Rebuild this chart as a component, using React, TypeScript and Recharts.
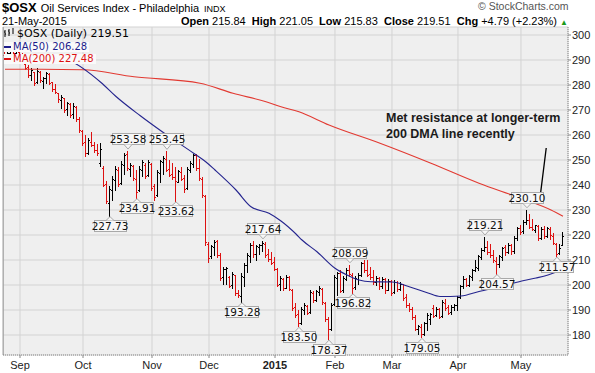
import React from "react";
import {
  ComposedChart,
  Bar,
  Line,
  Scatter,
  XAxis,
  YAxis,
  CartesianGrid,
  ReferenceLine,
} from "recharts";

// daily bars: [open, high, low, close], one small list per month
type Ohlc = [number, number, number, number];

const aug14: Ohlc[] = [
  [292.0, 293.6, 288.8, 289.3], [291.2, 293.2, 290.8, 292.6], [292.6, 295.2, 291.8, 294.6],
  [294.4, 295.8, 292.2, 292.8], [292.8, 294.2, 291.2, 293.6],
];
const sep14: Ohlc[] = [
  [293.2, 294.6, 291.4, 291.9], [291.8, 292.6, 290.9, 291.2], [288.4, 288.8, 286.4, 286.9],
  [287.0, 287.8, 283.4, 284.2], [284.0, 286.6, 282.2, 285.8], [285.0, 285.4, 280.2, 280.8],
  [281.0, 286.6, 280.6, 285.6], [285.2, 285.6, 281.2, 281.8], [281.6, 283.4, 278.8, 282.9],
  [282.6, 285.4, 280.8, 284.8], [284.4, 284.8, 280.4, 281.0], [281.0, 281.4, 277.6, 278.2],
  [278.4, 280.4, 276.6, 277.0], [276.6, 276.8, 273.2, 274.4], [274.0, 276.0, 270.8, 275.4],
  [274.6, 274.8, 269.4, 270.0], [270.4, 273.4, 268.2, 272.8], [272.4, 272.8, 267.4, 268.0],
  [268.2, 272.6, 266.8, 271.6], [271.2, 271.6, 265.6, 266.4], [266.4, 267.0, 261.0, 261.8],
];
const oct14: Ohlc[] = [
  [261.6, 262.0, 255.8, 256.6], [257.0, 260.0, 251.4, 252.6], [253.0, 258.8, 252.6, 257.8],
  [257.4, 261.2, 255.6, 256.2], [256.0, 257.0, 253.2, 254.0], [254.2, 256.4, 252.0, 252.8],
  [249.0, 256.6, 247.4, 254.6], [247.0, 247.4, 239.4, 240.2], [240.4, 241.4, 232.8, 233.6],
  [233.0, 239.4, 227.73, 238.6], [238.0, 243.4, 234.2, 242.6], [242.0, 247.4, 238.2, 246.4],
  [246.2, 247.2, 239.4, 240.4], [241.0, 249.4, 240.6, 248.6], [247.8, 252.8, 244.6, 252.0],
  [252.4, 253.58, 246.0, 246.8], [246.4, 248.8, 243.4, 248.0], [247.6, 248.0, 242.0, 242.8],
  [242.6, 246.0, 234.91, 237.0], [238.0, 247.4, 237.6, 246.6], [245.8, 250.0, 243.4, 249.2],
  [248.2, 248.6, 242.8, 243.6], [244.0, 250.0, 243.4, 249.0],
];
const nov14: Ohlc[] = [
  [248.4, 249.0, 238.0, 239.0], [239.6, 240.6, 234.2, 235.2], [235.8, 246.0, 235.4, 245.2],
  [244.8, 250.2, 241.0, 249.6], [249.2, 251.4, 244.6, 250.8], [250.6, 253.45, 245.4, 246.2],
  [246.6, 250.0, 243.4, 244.0], [244.4, 248.6, 242.6, 243.2], [243.0, 247.2, 233.62, 241.6],
  [241.4, 246.0, 241.2, 245.4], [245.0, 247.2, 242.0, 242.6], [242.8, 244.0, 237.4, 238.6],
  [238.8, 247.2, 238.4, 246.4], [246.0, 249.4, 245.2, 248.8], [248.4, 252.6, 247.2, 252.0],
  [252.2, 252.6, 246.0, 246.8], [246.8, 250.4, 242.0, 243.0], [242.6, 243.2, 235.2, 236.0],
  [235.6, 236.0, 216.0, 217.0],
];
const dec14: Ohlc[] = [
  [216.4, 217.0, 209.4, 211.0], [211.4, 216.2, 210.8, 215.4], [215.2, 218.0, 212.0, 217.2],
  [217.6, 218.0, 211.4, 212.2], [212.0, 212.8, 202.0, 203.0], [203.4, 207.4, 200.6, 206.6],
  [206.4, 207.0, 200.4, 206.8], [203.0, 203.4, 199.2, 199.8], [200.0, 205.2, 198.8, 204.6],
  [204.0, 204.2, 196.2, 196.8], [197.0, 198.0, 195.2, 195.8], [195.6, 204.8, 193.28, 203.6],
  [203.2, 208.8, 199.4, 208.0], [207.8, 212.8, 205.2, 212.0], [211.6, 216.8, 209.4, 216.2],
  [216.0, 217.4, 211.4, 212.4], [212.6, 216.0, 210.2, 215.4], [215.2, 216.6, 212.6, 216.0],
  [215.8, 217.64, 213.4, 216.8], [216.6, 217.0, 211.4, 212.2], [212.4, 214.6, 209.8, 210.4],
  [210.6, 213.2, 208.6, 209.0],
];
const jan15: Ohlc[] = [
  [209.2, 211.2, 205.8, 206.6], [206.4, 206.8, 199.4, 200.2], [200.4, 203.4, 198.0, 202.8],
  [202.4, 202.8, 198.2, 198.8], [199.0, 204.0, 198.8, 203.4], [203.2, 203.4, 197.8, 198.6],
  [198.2, 198.4, 190.0, 191.0], [191.4, 192.8, 187.4, 188.2], [188.4, 190.2, 183.5, 184.8],
  [185.0, 191.2, 184.6, 190.6], [190.2, 192.8, 188.6, 192.0], [191.6, 192.2, 188.4, 189.0],
  [189.4, 198.0, 189.0, 197.2], [197.0, 197.6, 193.2, 194.0], [194.2, 198.2, 193.6, 197.6],
  [197.2, 199.4, 195.8, 198.8], [198.6, 199.0, 192.4, 193.2], [193.0, 193.4, 185.6, 186.4],
  [186.6, 187.4, 178.37, 182.4], [182.6, 192.8, 182.0, 192.2],
];
const feb15: Ohlc[] = [
  [192.4, 204.0, 192.0, 203.4], [203.0, 205.4, 196.0, 204.8], [205.0, 206.0, 197.4, 197.8],
  [198.0, 203.4, 197.2, 202.8], [202.6, 206.8, 202.2, 206.2], [206.0, 208.09, 203.6, 204.4],
  [204.2, 205.0, 196.82, 199.0], [199.2, 203.4, 198.4, 202.8], [202.6, 204.8, 200.4, 204.2],
  [204.0, 209.4, 203.4, 208.8], [209.0, 210.2, 205.4, 206.0], [206.2, 210.0, 203.6, 204.2],
  [204.4, 207.4, 202.4, 203.2], [203.4, 206.0, 200.6, 201.2], [201.4, 203.4, 200.2, 202.8],
  [202.8, 203.2, 198.6, 199.4], [199.6, 203.2, 198.8, 202.6], [202.4, 202.8, 197.0, 198.0],
  [198.2, 202.6, 197.8, 201.8],
];
const mar15: Ohlc[] = [
  [201.6, 202.0, 196.2, 197.0], [197.2, 202.0, 196.8, 201.4], [201.2, 201.6, 197.6, 198.4],
  [198.6, 201.2, 198.0, 200.6], [200.4, 200.6, 194.2, 195.0], [195.2, 196.6, 191.4, 192.0],
  [192.2, 192.8, 189.6, 190.4], [190.6, 191.4, 186.6, 187.2], [187.4, 188.0, 181.8, 182.6],
  [182.4, 184.2, 180.6, 183.6], [183.4, 184.6, 179.05, 180.4], [180.6, 185.4, 180.2, 185.0],
  [184.8, 188.8, 182.0, 188.2], [186.6, 189.0, 184.6, 188.6], [191.0, 192.0, 187.2, 187.8],
  [188.0, 191.4, 187.6, 190.6], [190.4, 190.8, 186.8, 187.4], [187.6, 194.0, 187.2, 193.2],
  [193.0, 194.6, 190.2, 191.0], [191.2, 191.8, 188.4, 189.0], [189.2, 192.0, 188.6, 191.4],
  [191.2, 192.6, 190.2, 192.0],
];
const apr15: Ohlc[] = [
  [191.8, 195.4, 190.0, 195.0], [195.2, 200.2, 195.0, 199.8], [199.6, 203.4, 198.8, 202.6],
  [202.4, 203.0, 199.4, 200.0], [200.2, 204.0, 199.8, 203.6], [203.4, 206.6, 202.0, 206.0],
  [205.8, 210.0, 205.6, 207.2], [207.0, 212.0, 206.0, 211.4], [211.2, 214.8, 210.6, 214.2],
  [214.0, 219.21, 213.6, 215.0], [215.2, 217.6, 212.6, 213.2], [213.4, 216.4, 211.4, 212.0],
  [212.2, 214.0, 209.2, 209.8], [209.6, 211.4, 204.57, 208.6], [208.6, 212.0, 207.2, 211.6],
  [211.4, 215.4, 210.0, 215.0], [215.0, 216.2, 212.2, 213.0], [213.2, 216.8, 212.8, 216.2],
  [216.0, 216.4, 212.6, 213.4], [213.6, 219.4, 212.8, 219.0], [218.8, 223.4, 218.0, 223.0],
];
const may15: Ohlc[] = [
  [222.8, 224.2, 220.6, 221.4], [221.6, 226.0, 221.0, 225.4], [225.2, 230.1, 224.6, 226.0],
  [226.2, 228.6, 222.6, 223.2], [223.4, 226.6, 221.8, 222.4], [222.2, 224.2, 221.2, 223.8],
  [223.6, 224.0, 218.0, 218.8], [219.0, 223.4, 218.6, 222.6], [222.4, 223.6, 219.0, 219.6],
  [219.8, 223.2, 219.2, 222.8], [222.6, 223.2, 218.4, 219.8], [219.6, 220.8, 216.4, 216.8],
  [216.6, 216.8, 211.57, 212.6], [212.8, 216.6, 212.4, 214.72], [215.84, 221.05, 215.83, 219.51],
];

const months = [aug14, sep14, oct14, nov14, dec14, jan15, feb15, mar15, apr15, may15];
const monthLabels = ["Sep", "Oct", "Nov", "Dec", "2015", "Feb", "Mar", "Apr", "May"];

// moving averages read at a handful of bar positions: [bar index, value]
const ma50Pts: [number, number][] = [
  [18, 291.0], [21, 290.0], [32, 281.0], [37, 275.4], [45, 267.8], [53, 260.8], [63, 252.6],
  [67, 249.2], [70, 246.0], [77, 238.0], [82, 231.3], [88, 228.7], [92, 225.6], [97, 220.4],
  [99, 218.0], [104, 213.3], [110, 206.7], [114, 204.0], [118, 202.0], [122, 201.3], [129, 201.2],
  [135, 199.2], [141, 196.8], [145, 195.4], [152, 195.6], [158, 197.4], [166, 199.6], [173, 201.8],
  [177, 202.8], [181, 204.0], [186, 206.28],
];
const ma200Pts: [number, number][] = [
  [0, 286.3], [12, 286.3], [26, 286.1], [43, 283.3], [65, 280.7], [76, 276.7], [87, 273.3],
  [92, 271.3], [98, 269.3], [108, 264.0], [125, 256.7], [142, 248.7], [158, 240.7], [172, 234.7],
  [182, 230.0], [186, 227.48],
];

const pivotHighs = [41, 54, 86, 115, 160, 174];
const pivotLows = [35, 44, 57, 79, 98, 108, 116, 139, 164, 184];
const priceTicks = [180, 190, 200, 210, 220, 230, 240, 250, 260, 270, 280, 290, 300];
const noteLine = [
  { x: 178.3, y: 234.6 },
  { x: 180.4, y: 254.8 },
];

const allBars = months.flat();
const bars = allBars.map(([o, h, l, c], i) => ({
  i,
  o,
  h,
  l,
  c,
  up: i === 0 ? c >= o : c >= allBars[i - 1][3],
}));

const monthStarts: number[] = [];
{
  let n = 0;
  months.forEach((m, k) => {
    if (k > 0) monthStarts.push(n);
    n += m.length;
  });
}

const pivots = [
  ...pivotHighs.map((i) => ({ i, v: bars[i].h, above: true })),
  ...pivotLows.map((i) => ({ i, v: bars[i].l, above: false })),
];
const ma50 = ma50Pts.map(([i, v]) => ({ i, v }));
const ma200 = ma200Pts.map(([i, v]) => ({ i, v }));

const RED = "#dd1111";
const FONT = "'Liberation Sans', Arial, sans-serif";

function OhlcShape(props: any) {
  const { x, y, width, height, payload } = props;
  if (x == null || y == null) return null;
  const top = Math.min(y, y + height);
  const bot = Math.max(y, y + height);
  const span = payload.h - payload.l;
  const toY = (v: number) =>
    Math.round(span > 0 ? top + ((payload.h - v) / span) * (bot - top) : top) + 0.5;
  const c = Math.floor(x + width / 2) + 0.5;
  const col = payload.up ? "#000" : RED;
  return (
    <g stroke={col} strokeWidth={1} shapeRendering="crispEdges">
      <line x1={c} x2={c} y1={Math.round(top)} y2={Math.round(bot) + 1} />
      <line x1={c - 1.5} x2={c} y1={toY(payload.o)} y2={toY(payload.o)} />
      <line x1={c} x2={c + 1.5} y1={toY(payload.c)} y2={toY(payload.c)} />
    </g>
  );
}

function PivotTag(props: any) {
  const { cx, cy, payload } = props;
  if (cx == null || cy == null) return null;
  const w = 32;
  const h = 11;
  const bx = Math.round(cx - w / 2) + 0.5;
  const by = Math.round(payload.above ? cy - 7 - h : cy + 4.5) + 0.5;
  const base = payload.above ? by + h : by;
  const tip = payload.above ? cy - 2 : cy + 1;
  return (
    <g>
      <rect x={bx} y={by} width={w} height={h} fill="#f7f7f7" stroke="#a9a9a9" />
      <polygon points={`${cx - 4},${base} ${cx},${tip} ${cx + 4},${base}`} fill="#f7f7f7" />
      <polyline points={`${cx - 4},${base} ${cx},${tip} ${cx + 4},${base}`} fill="none" stroke="#a9a9a9" />
      <text x={cx} y={by + h - 2} textAnchor="middle" fontSize={10.5} fontFamily="'DejaVu Sans', Verdana, sans-serif" fill="#111">
        {payload.v.toFixed(2)}
      </text>
    </g>
  );
}

function MonthTick(props: any) {
  const { x, y, payload } = props;
  const k = monthStarts.indexOf(payload.value);
  const label = monthLabels[k] ?? "";
  return (
    <text x={x} y={y + 9} textAnchor="middle" fontSize={11} fontFamily={FONT} fontWeight={label === "2015" ? "bold" : "normal"} fill="#222">
      {label}
    </text>
  );
}

export default function App() {
  const lbl: React.CSSProperties = { fontWeight: "bold" };
  const legendFont = "'DejaVu Sans', Verdana, sans-serif";
  return (
    <div style={{ position: "absolute", left: 0, top: 0, width: 595, height: 373, background: "#fff", fontFamily: FONT, overflow: "hidden" }}>
      <div style={{ position: "absolute", left: 0, top: 0 }}>
        <ComposedChart width={595} height={373} data={bars} margin={{ top: 27, right: 0, bottom: 0, left: 3 }}>
          <CartesianGrid fill="#efefef" stroke="#d3d3d3" />
          <XAxis
            dataKey="i"
            type="number"
            domain={[-0.667, 187.667]}
            ticks={monthStarts}
            interval={0}
            height={18}
            tick={<MonthTick />}
            tickSize={3}
            stroke="#888"
            axisLine={{ stroke: "#888", strokeDasharray: "1 1" }}
          />
          <YAxis
            orientation="right"
            type="number"
            domain={[172, 303.2]}
            ticks={priceTicks}
            interval={0}
            width={27}
            tickSize={3}
            tickMargin={1}
            stroke="#888"
            axisLine={{ stroke: "#888", strokeDasharray: "1 1" }}
            tick={{ fontSize: 11, fill: "#222", fontFamily: FONT }}
          />
          <ReferenceLine x={-0.6} stroke="#9a9a9a" />
          <Line data={ma200} dataKey="v" type="monotone" stroke="#e23a32" strokeWidth={1.1} dot={false} isAnimationActive={false} />
          <Line data={ma50} dataKey="v" type="monotone" stroke="#24248e" strokeWidth={1.1} dot={false} isAnimationActive={false} />
          <Bar dataKey={(d: any) => [d.l, d.h]} barSize={3} shape={<OhlcShape />} isAnimationActive={false} />
          <Scatter data={pivots} dataKey="v" shape={<PivotTag />} isAnimationActive={false} />
          <ReferenceLine segment={noteLine} stroke="#000" strokeWidth={1.3} />
        </ComposedChart>
      </div>

      {/* header */}
      <div style={{ position: "absolute", left: 2, top: 0, lineHeight: "14px", height: 14, whiteSpace: "nowrap", color: "#000" }}>
        <span style={{ fontSize: 13, fontWeight: "bold" }}>$OSX</span>
        <span style={{ fontSize: 11, marginLeft: 4 }}>Oil Services Index - Philadelphia</span>
        <span style={{ fontSize: 9, marginLeft: 5 }}>INDX</span>
      </div>
      <div style={{ position: "absolute", left: 2, top: 15.5, fontSize: 11, lineHeight: "11px", color: "#000" }}>21-May-2015</div>
      <div style={{ position: "absolute", left: 478, top: 1, fontSize: 10.5, lineHeight: "11px", color: "#555" }}>© StockCharts.com</div>
      <div style={{ position: "absolute", right: 27, top: 15.5, fontSize: 11, lineHeight: "11px", color: "#000", whiteSpace: "nowrap" }}>
        <span style={lbl}>Open</span> 215.84 <span style={lbl}>&nbsp;High</span> 221.05 <span style={lbl}>&nbsp;Low</span> 215.83{" "}
        <span style={lbl}>&nbsp;Close</span> 219.51 <span style={lbl}>&nbsp;Chg</span> +4.79 (+2.23%){" "}
        <span style={{ color: "#1a9a1a", fontSize: 8 }}>▲</span>
      </div>

      {/* legend */}
      <div style={{ position: "absolute", left: 4, top: 28, lineHeight: "10px", whiteSpace: "nowrap" }}>
        <div style={{ fontSize: 11, fontFamily: legendFont, height: 12, lineHeight: "12px", color: "#000" }}>
          <svg width={10} height={10} style={{ marginRight: 3, verticalAlign: "-1px" }}>
            <path d="M1 2 V9 M0 4 H1 M1 6 H2 M5 1 V8 M4 3 H5 M5 5 H6 M9 0 V6" stroke="#000" strokeWidth={1} fill="none" />
          </svg>
          $OSX (Daily) 219.51
        </div>
        <div style={{ fontSize: 10, fontFamily: legendFont, color: "#1c1c8a", background: "#fafafa", display: "inline-block", paddingRight: 2 }}>
          <span style={{ display: "inline-block", width: 7, height: 2, background: "#1c1c8a", marginRight: 2, verticalAlign: "middle" }} />
          MA(50) 206.28
        </div>
        <br />
        <div style={{ fontSize: 10, fontFamily: legendFont, color: "#dd1111", background: "#fafafa", display: "inline-block", paddingRight: 2 }}>
          <span style={{ display: "inline-block", width: 7, height: 2, background: "#dd1111", marginRight: 2, verticalAlign: "middle" }} />
          MA(200) 227.48
        </div>
      </div>

      {/* annotation */}
      <div style={{ position: "absolute", left: 386, top: 110, fontSize: 12.5, fontWeight: "bold", lineHeight: "16px", color: "#1a1a1a", whiteSpace: "nowrap" }}>
        Met resistance at longer-term
        <br />
        200 DMA line recently
      </div>
    </div>
  );
}
